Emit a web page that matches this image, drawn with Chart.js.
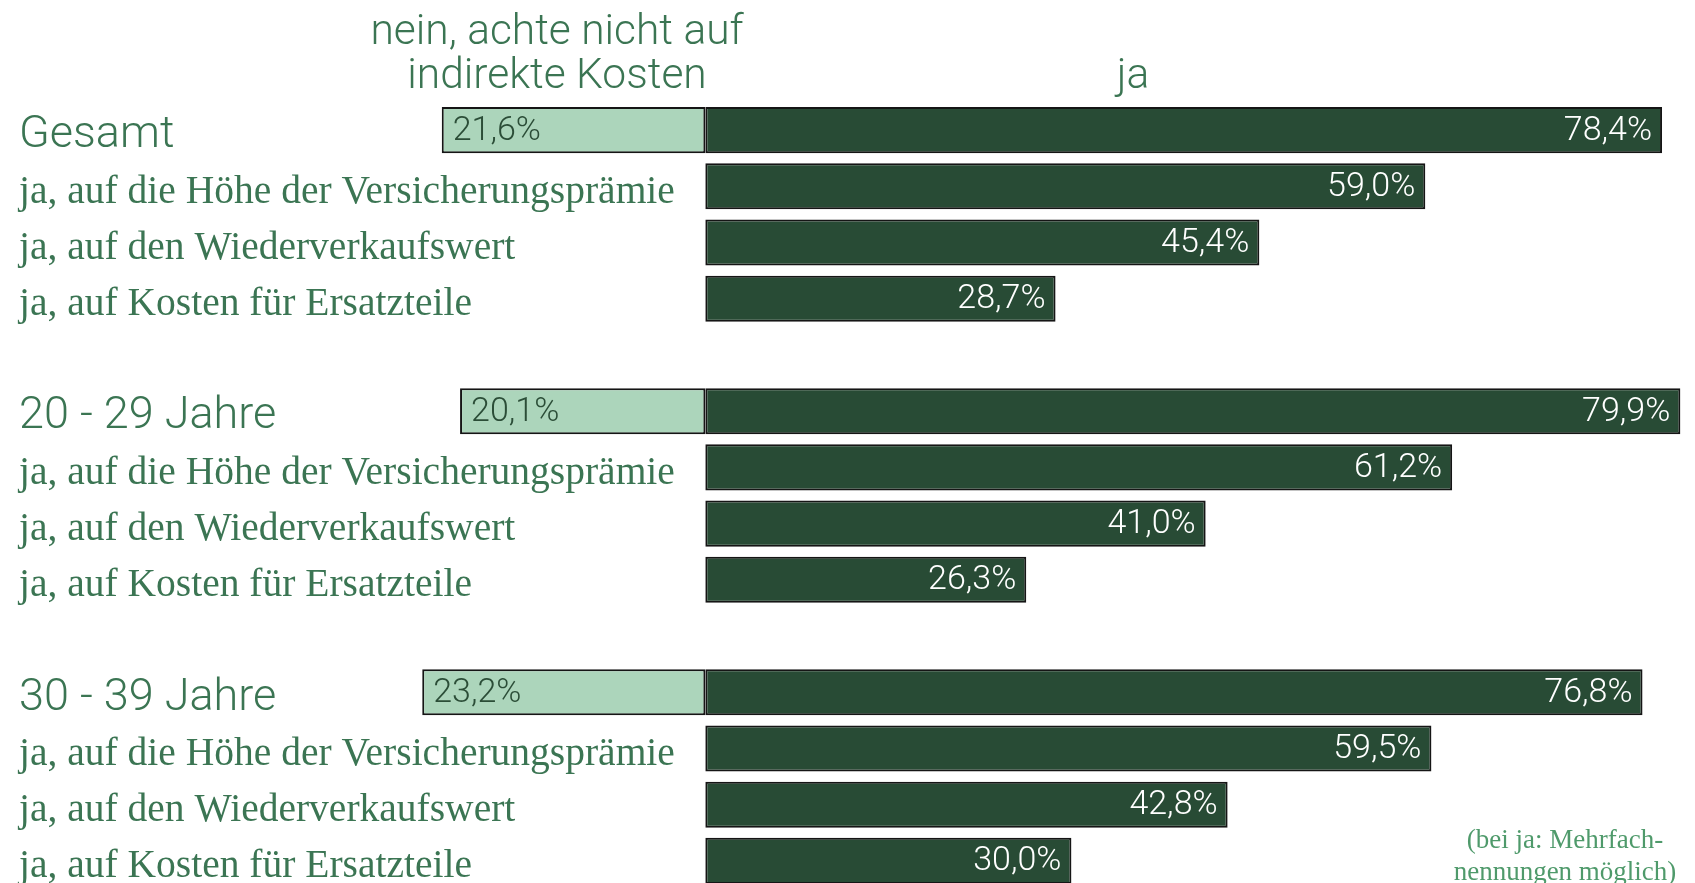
<!DOCTYPE html>
<html><head><meta charset="utf-8">
<script src="https://cdn.jsdelivr.net/npm/chart.js@4/dist/chart.umd.min.js"></script>
<style>
html,body{margin:0;padding:0;background:#fff;overflow:hidden}
#wrap{position:relative;width:1695px;height:891px}
</style>
</head><body>
<div id="wrap"><canvas id="c" width="1695" height="891"></canvas></div>
<script>
// ---------- data ----------
const categories = [
  'Gesamt',
  'ja, auf die Höhe der Versicherungsprämie',
  'ja, auf den Wiederverkaufswert',
  'ja, auf Kosten für Ersatzteile',
  '',
  '20 - 29 Jahre',
  'ja, auf die Höhe der Versicherungsprämie',
  'ja, auf den Wiederverkaufswert',
  'ja, auf Kosten für Ersatzteile',
  '',
  '30 - 39 Jahre',
  'ja, auf die Höhe der Versicherungsprämie',
  'ja, auf den Wiederverkaufswert',
  'ja, auf Kosten für Ersatzteile'
];
const groupHeaders = ['Gesamt', '20 - 29 Jahre', '30 - 39 Jahre'];
const neinValues = [21.6, null, null, null, null, 20.1, null, null, null, null, 23.2, null, null, null];
const jaValues   = [78.4, 59.0, 45.4, 28.7, null, 79.9, 61.2, 41.0, 26.3, null, 76.8, 59.5, 42.8, 30.0];
const seriesNames = ['nein, achte nicht auf indirekte Kosten', 'ja'];
const neinHeaderLines = ['nein, achte nicht auf', 'indirekte Kosten'];
const jaHeaderLines = ['ja'];
const footnoteLines = ['(bei ja: Mehrfach-', 'nennungen möglich)'];

// ---------- style ----------
const TEXT_GREEN = '#3b7553';
const FOOT_GREEN = '#4f9a6b';
const DARK = '#284b35';
const LIGHT = '#acd5bb';
const SANS = 'Roboto, "Open Sans", sans-serif';
const SERIF = '"Liberation Serif", "DejaVu Serif", serif';

const fmt = v => v.toFixed(1).replace('.', ',') + '%';

const valueLabels = {
  id: 'valueLabels',
  afterDatasetsDraw(chart) {
    const ctx = chart.ctx;
    ctx.save();
    ctx.font = '300 34px ' + SANS;
    ctx.textBaseline = 'middle';
    chart.data.datasets.forEach((ds, di) => {
      const meta = chart.getDatasetMeta(di);
      meta.data.forEach((bar, i) => {
        const raw = di === 0 ? neinValues[i] : jaValues[i];
        if (raw == null) return;
        if (di === 0) {
          ctx.fillStyle = '#2b4d37';
          ctx.textAlign = 'left';
          ctx.fillText(fmt(raw), bar.x + 11, bar.y + 1);
        } else {
          ctx.fillStyle = '#ffffff';
          ctx.textAlign = 'right';
          ctx.fillText(fmt(raw), bar.x - 10, bar.y + 1);
        }
      });
    });
    ctx.restore();
  }
};

const headerText = {
  id: 'headerText',
  afterDraw(chart) {
    const ctx = chart.ctx;
    ctx.save();
    ctx.fillStyle = TEXT_GREEN;
    ctx.textAlign = 'center';
    ctx.textBaseline = 'alphabetic';
    ctx.font = '300 42.5px ' + SANS;
    ctx.fillText(neinHeaderLines[0], 557, 44);
    ctx.fillText(neinHeaderLines[1], 557, 88);
    ctx.fillText(jaHeaderLines[0], 1133, 88);
    ctx.fillStyle = FOOT_GREEN;
    ctx.font = '27px ' + SERIF;
    ctx.fillText(footnoteLines[0], 1565, 848);
    ctx.fillText(footnoteLines[1], 1565, 880);
    ctx.restore();
  }
};

new Chart(document.getElementById('c'), {
  type: 'bar',
  data: {
    labels: categories,
    datasets: [
      {
        label: seriesNames[0],
        data: neinValues.map(v => v == null ? null : -v),
        backgroundColor: LIGHT,
        borderColor: '#151515',
        borderWidth: 2,
        borderSkipped: false,
        barPercentage: 0.82,
        categoryPercentage: 1.0
      },
      {
        label: seriesNames[1],
        data: jaValues,
        backgroundColor: DARK,
        borderColor: '#151515',
        borderWidth: 2,
        borderSkipped: false,
        barPercentage: 0.82,
        categoryPercentage: 1.0
      }
    ]
  },
  options: {
    indexAxis: 'y',
    responsive: false,
    animation: false,
    devicePixelRatio: 1,
    layout: { padding: { top: 102, bottom: 2, left: 0, right: 0 } },
    plugins: { legend: { display: false }, tooltip: { enabled: false } },
    scales: {
      x: {
        stacked: true,
        display: false,
        min: -57.8,
        max: 81.1
      },
      y: {
        stacked: true,
        position: 'left',
        grid: { display: false, drawTicks: false },
        border: { display: false },
        afterFit(scale) {
          scale.width = 0;
          scale.paddingTop = 0;
          scale.paddingBottom = 0;
          scale.paddingLeft = 0;
          scale.paddingRight = 0;
        },
        ticks: {
          mirror: true,
          padding: 19,
          labelOffset: 6,
          autoSkip: false,
          color: TEXT_GREEN,
          font: (c) => {
            const lbl = categories[c.index];
            return groupHeaders.includes(lbl)
              ? { family: SANS, size: 45, weight: '300' }
              : { family: SERIF, size: 39.5, weight: 'normal' };
          }
        }
      }
    }
  },
  plugins: [valueLabels, headerText]
});
</script>
</body></html>
